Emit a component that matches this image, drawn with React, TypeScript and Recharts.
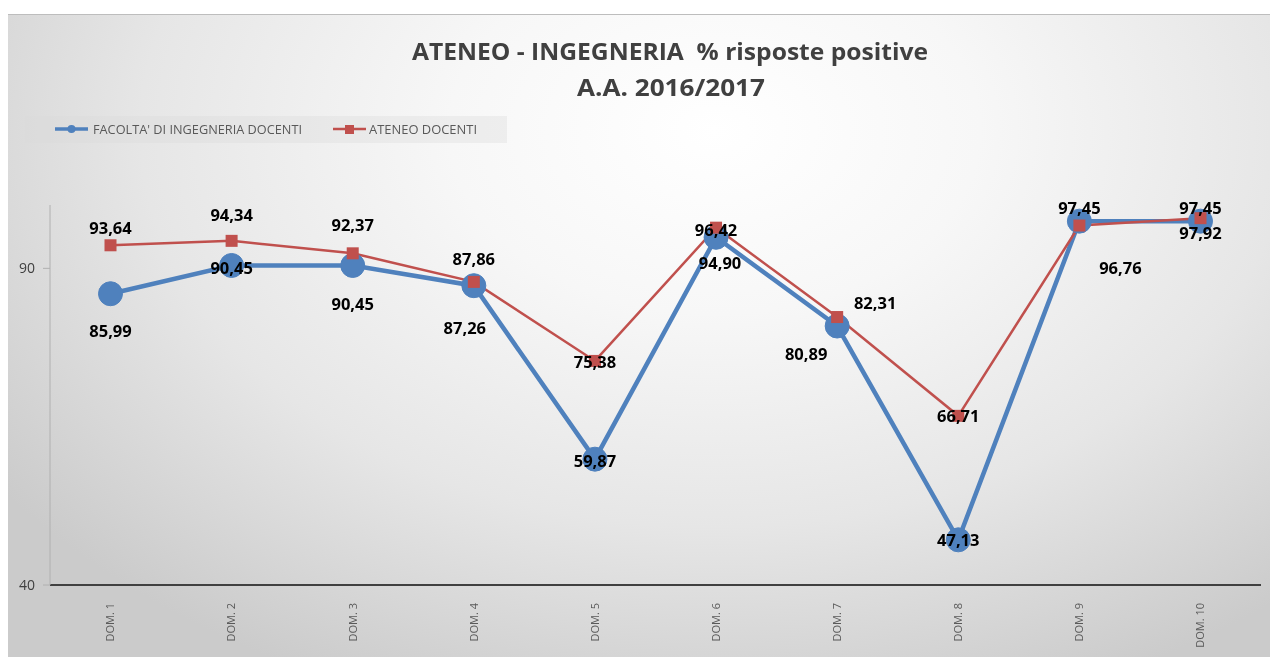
import React from "react";
import { LineChart, Line, XAxis, YAxis, LabelList } from "recharts";

const categories = ["DOM. 1", "DOM. 2", "DOM. 3", "DOM. 4", "DOM. 5", "DOM. 6", "DOM. 7", "DOM. 8", "DOM. 9", "DOM. 10"];
const facoltaDocenti = [85.99, 90.45, 90.45, 87.26, 59.87, 94.9, 80.89, 47.13, 97.45, 97.45];
const ateneoDocenti = [93.64, 94.34, 92.37, 87.86, 75.38, 96.42, 82.31, 66.71, 96.76, 97.92];
const yTicks = [40, 90];
const seriesNames = ["FACOLTA' DI INGEGNERIA DOCENTI", "ATENEO DOCENTI"];
const titleLines = ["ATENEO - INGEGNERIA  % risposte positive", "A.A. 2016/2017"];

// label offsets (dx, dy) from each point, mimicking Excel label placement
const facoltaLabelOffset: [number, number][] = [
  [0, 37], [0, 2], [0, 38], [-9, 42], [0, 1], [4, 25], [-31, 27], [0, 0], [0, -14], [0, -14],
];
const ateneoLabelOffset: [number, number][] = [
  [0, -18], [0, -26], [0, -29], [0, -23], [0, 1], [0, 2], [38, -15], [0, 0], [41, 42], [0, 14],
];

const data = categories.map((c, i) => ({
  name: c,
  facolta: facoltaDocenti[i],
  ateneo: ateneoDocenti[i],
}));

const BLUE = "#4F81BD";
const RED = "#C0504D";
const FONT = "'Open Sans', 'Noto Sans', sans-serif";

const fmt = (v: number) => v.toFixed(2).replace(".", ",");

const makeLabel = (offsets: [number, number][]) => (p: any) => {
  const { x, y, index, value } = p;
  if (x == null || y == null) return null;
  const [dx, dy] = offsets[index] || [0, 0];
  return (
    <text
      x={x + dx}
      y={y + dy}
      textAnchor="middle"
      dominantBaseline="central"
      fontFamily={FONT}
      fontWeight={700}
      fontSize={16.5}
      fill="#000"
    >
      {fmt(Number(value))}
    </text>
  );
};

const XTick = (p: any) => {
  const { x, y, payload } = p;
  return (
    <text
      transform={`translate(${x},${y + 10}) rotate(-90)`}
      textAnchor="end"
      dy="0.35em"
      fontFamily={FONT}
      fontSize={11}
      fill="#595959"
    >
      {payload.value}
    </text>
  );
};

const Square = (p: any) => {
  const { cx, cy } = p;
  if (cx == null || cy == null) return null;
  return <rect x={cx - 6} y={cy - 6} width={12} height={12} fill={RED} />;
};

const W = 1262;
const H = 643;

export default function App() {
  return (
    <div
      style={{
        position: "fixed",
        left: 8,
        top: 14,
        width: W,
        height: H,
        borderTop: "1px solid #bdbdbd",
        boxSizing: "border-box",
        background:
          "radial-gradient(ellipse 70% 95% at 56% 18%, #ffffff 0%, #f7f7f7 30%, #e6e6e6 65%, #cbcbcb 100%)",
      }}
    >
      <LineChart
        width={W}
        height={H - 1}
        data={data}
        margin={{ top: 190, right: 9, bottom: 0, left: 0 }}
      >
        <XAxis
          dataKey="name"
          axisLine={{ stroke: "#404040", strokeWidth: 2 }}
          tickLine={false}
          tick={<XTick />}
          height={72}
          interval={0}
          padding={{ left: 60.5, right: 60.5 }}
        />
        <YAxis
          domain={[40, 100]}
          ticks={yTicks}
          width={42}
          axisLine={{ stroke: "#b0b0b0", strokeWidth: 1 }}
          tickLine={{ stroke: "#b0b0b0" }}
          tickSize={7}
          tickMargin={8}
          tick={{ fontFamily: FONT, fontSize: 14, fill: "#404040" }}
          allowDataOverflow
        />
        <Line
          type="linear"
          dataKey="facolta"
          stroke={BLUE}
          strokeWidth={4.5}
          dot={{ r: 12, fill: BLUE, stroke: BLUE, strokeWidth: 1 }}
          isAnimationActive={false}
        >
          <LabelList dataKey="facolta" content={makeLabel(facoltaLabelOffset)} />
        </Line>
        <Line
          type="linear"
          dataKey="ateneo"
          stroke={RED}
          strokeWidth={2.5}
          dot={<Square />}
          isAnimationActive={false}
        >
          <LabelList dataKey="ateneo" content={makeLabel(ateneoLabelOffset)} />
        </Line>
      </LineChart>
      <svg
        width={W}
        height={150}
        style={{ position: "absolute", left: 0, top: 0, pointerEvents: "none" }}
      >
        <text
          x={662}
          y={45}
          textAnchor="middle"
          fontFamily={FONT}
          fontWeight={700}
          fontSize={23}
          fill="#404040"
          textLength={516}
          lengthAdjust="spacingAndGlyphs"
          style={{ whiteSpace: "pre" }}
        >
          {titleLines[0]}
        </text>
        <text
          x={663}
          y={81}
          textAnchor="middle"
          fontFamily={FONT}
          fontWeight={700}
          fontSize={23}
          fill="#404040"
          textLength={188}
          lengthAdjust="spacingAndGlyphs"
        >
          {titleLines[1]}
        </text>
        <rect x={17} y={101} width={482} height={27} fill="#d9d9d9" opacity={0.35} />
        <line x1={47} y1={114} x2={80} y2={114} stroke={BLUE} strokeWidth={3.5} />
        <circle cx={63.5} cy={114} r={4} fill={BLUE} />
        <text
          x={85}
          y={118.5}
          fontFamily={FONT}
          fontSize={12}
          fill="#595959"
          textLength={209}
          lengthAdjust="spacingAndGlyphs"
        >
          {seriesNames[0]}
        </text>
        <line x1={325} y1={114} x2={358} y2={114} stroke={RED} strokeWidth={2.5} />
        <rect x={337} y={110} width={9} height={9} fill={RED} />
        <text
          x={361}
          y={118.5}
          fontFamily={FONT}
          fontSize={12}
          fill="#595959"
          textLength={108}
          lengthAdjust="spacingAndGlyphs"
        >
          {seriesNames[1]}
        </text>
      </svg>
    </div>
  );
}
